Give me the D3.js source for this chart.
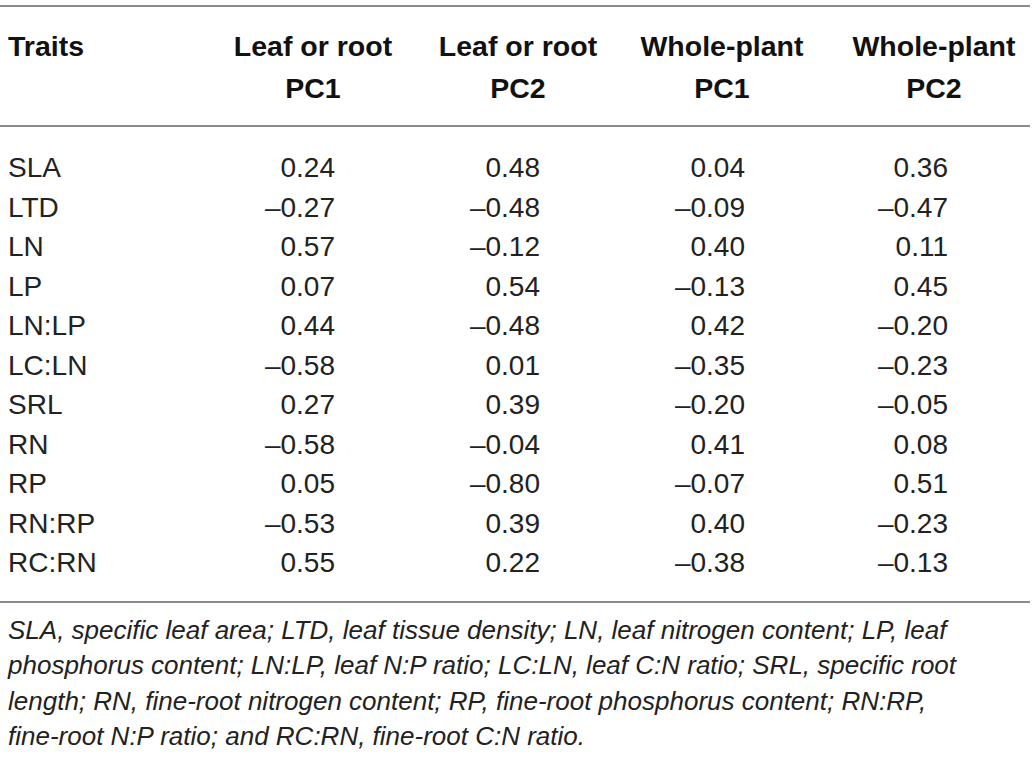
<!DOCTYPE html>
<html>
<head>
<meta charset="utf-8">
<script src="https://cdn.jsdelivr.net/npm/d3@7"></script>
<style>
  body { margin: 0; background: #fff; }
  svg text { font-family: "Liberation Sans", Arial, Helvetica, sans-serif; }
</style>
</head>
<body>
<div id="table"></div>
<script>
// table contents
var traits = ["SLA", "LTD", "LN", "LP", "LN:LP", "LC:LN", "SRL", "RN", "RP", "RN:RP", "RC:RN"];
var columns = ["Traits", "Leaf or root PC1", "Leaf or root PC2", "Whole-plant PC1", "Whole-plant PC2"];
var headerLines = [["Traits"], ["Leaf or root", "PC1"], ["Leaf or root", "PC2"], ["Whole-plant", "PC1"], ["Whole-plant", "PC2"]];
var leafRootPC1 = [0.24, -0.27, 0.57, 0.07, 0.44, -0.58, 0.27, -0.58, 0.05, -0.53, 0.55];
var leafRootPC2 = [0.48, -0.48, -0.12, 0.54, -0.48, 0.01, 0.39, -0.04, -0.80, 0.39, 0.22];
var wholePC1 = [0.04, -0.09, 0.40, -0.13, 0.42, -0.35, -0.20, 0.41, -0.07, 0.40, -0.38];
var wholePC2 = [0.36, -0.47, 0.11, 0.45, -0.20, -0.23, -0.05, 0.08, 0.51, -0.23, -0.13];
var footnote = [
    "SLA, specific leaf area; LTD, leaf tissue density; LN, leaf nitrogen content; LP, leaf",
    "phosphorus content; LN:LP, leaf N:P ratio; LC:LN, leaf C:N ratio; SRL, specific root",
    "length; RN, fine-root nitrogen content; RP, fine-root phosphorus content; RN:RP,",
    "fine-root N:P ratio; and RC:RN, fine-root C:N ratio."
];

var width = 1036, height = 766;

var svg = d3.select("#table").append("svg")
    .attr("width", width)
    .attr("height", height);

var series = [leafRootPC1, leafRootPC2, wholePC1, wholePC2];

// row baselines
var y = d3.scalePoint()
    .domain(traits)
    .range([177, 572]);

// right edge of each value column
var xRight = d3.scaleOrdinal()
    .domain(columns.slice(1))
    .range([335, 540, 745, 948]);

// header centre of each column
var xHead = d3.scaleOrdinal()
    .domain(columns.slice(1))
    .range([313, 518, 722, 934]);

var fmt = function(v) {
    var s = Math.abs(v).toFixed(2);
    return (v < 0 ? "\u2013" : "") + s;
};

// rules
svg.selectAll(".rule")
    .data([6, 126, 602])
    .enter().append("line")
    .attr("class", "rule")
    .attr("x1", 0)
    .attr("x2", 1030)
    .attr("y1", function(d) { return d; })
    .attr("y2", function(d) { return d; })
    .attr("stroke", "#8c8c8c")
    .attr("stroke-width", 2);

// header
var head = svg.append("g").attr("class", "header");
headerLines.forEach(function(lines, i) {
    lines.forEach(function(t, j) {
        head.append("text")
            .attr("x", i === 0 ? 8 : xHead(columns[i]))
            .attr("y", 56 + j * 42)
            .attr("text-anchor", i === 0 ? "start" : "middle")
            .attr("font-size", 28.5)
            .attr("font-weight", "bold")
            .attr("fill", "#111")
            .text(t);
    });
});

// trait names
svg.selectAll(".trait")
    .data(traits)
    .enter().append("text")
    .attr("class", "trait")
    .attr("x", 8)
    .attr("y", function(d) { return y(d); })
    .attr("font-size", 28)
    .attr("fill", "#222")
    .text(function(d) { return d; });

// values
series.forEach(function(vals, c) {
    svg.selectAll(".val" + c)
        .data(vals)
        .enter().append("text")
        .attr("class", "val" + c)
        .attr("x", xRight(columns[c + 1]))
        .attr("y", function(d, i) { return y(traits[i]); })
        .attr("text-anchor", "end")
        .attr("font-size", 28)
        .attr("fill", "#222")
        .text(fmt);
});

// footnote
svg.selectAll(".note")
    .data(footnote)
    .enter().append("text")
    .attr("class", "note")
    .attr("x", 8)
    .attr("y", function(d, i) { return 639 + i * 35.3; })
    .attr("font-size", 26)
    .attr("font-style", "italic")
    .attr("fill", "#222")
    .text(function(d) { return d; });
</script>
</body>
</html>
